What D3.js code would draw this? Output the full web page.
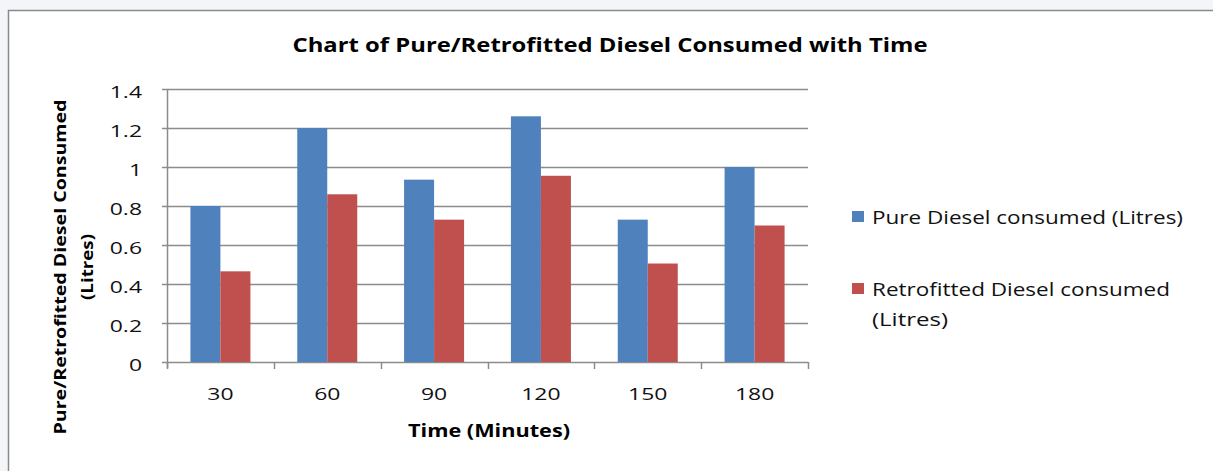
<!DOCTYPE html>
<html>
<head>
<meta charset="utf-8">
<script src="https://cdn.jsdelivr.net/npm/d3@7"></script>
<style>
  body { margin: 0; background: #f3f5f8; }
  svg { display: block; }
</style>
</head>
<body>
<div id="chart"></div>
<script>
// --- Data ---
const categories = ["30", "60", "90", "120", "150", "180"];
const pureDiesel = [0.80, 1.20, 0.935, 1.26, 0.73, 1.00];
const retroDiesel = [0.465, 0.86, 0.73, 0.955, 0.505, 0.70];
const yTicks = [0, 0.2, 0.4, 0.6, 0.8, 1, 1.2, 1.4];
const seriesNames = ["Pure Diesel consumed (Litres)", "Retrofitted Diesel consumed (Litres)"];
const seriesColors = ["#4f81bd", "#c0504d"];

const width = 1213;
const height = 471;
// the reference text looks stretched sideways
const stretch = 1.35;

const svg = d3.select("#chart").append("svg")
  .attr("width", width)
  .attr("height", height);

// chart frame
svg.append("rect")
  .attr("x", 8.5).attr("y", 10.5)
  .attr("width", width + 20).attr("height", height + 20)
  .attr("fill", "#fff")
  .attr("stroke", "#8a8a8a")
  .attr("stroke-width", 1.5);

const plot = { left: 167, right: 808, top: 89, bottom: 362 };

const x = d3.scaleBand()
  .domain(categories)
  .range([plot.left, plot.right]);

const y = d3.scaleLinear()
  .domain([0, 1.4])
  .range([plot.bottom, plot.top]);

// gridlines
svg.append("g")
  .selectAll("line")
  .data(yTicks)
  .join("line")
  .attr("x1", plot.left - 5)
  .attr("x2", plot.right)
  .attr("y1", d => Math.round(y(d)) + 0.5)
  .attr("y2", d => Math.round(y(d)) + 0.5)
  .attr("stroke", "#8c8c8c")
  .attr("stroke-width", 1.5);

// y tick labels
svg.append("g")
  .selectAll("text")
  .data(yTicks)
  .join("text")
  .attr("transform", d => `translate(${plot.left - 25},${y(d) + 3}) scale(${stretch},1)`)
  .attr("dy", "0.35em")
  .attr("text-anchor", "end")
  .attr("font-family", "Open Sans")
  .attr("font-size", 17)
  .attr("fill", "#111")
  .text(d => d);

// bars
const inner = d3.scaleBand()
  .domain([0, 1])
  .range([0, 60]);
const groupOffset = (x.bandwidth() - 60) / 2;

const series = [pureDiesel, retroDiesel];
series.forEach((values, si) => {
  svg.append("g")
    .selectAll("rect")
    .data(values)
    .join("rect")
    .attr("x", (d, i) => x(categories[i]) + groupOffset + inner(si))
    .attr("y", d => y(d))
    .attr("width", inner.bandwidth())
    .attr("height", d => y(0) - y(d))
    .attr("fill", seriesColors[si]);
});

// y axis line
svg.append("line")
  .attr("x1", plot.left + 0.5).attr("x2", plot.left + 0.5)
  .attr("y1", plot.top).attr("y2", plot.bottom + 6)
  .attr("stroke", "#8c8c8c")
  .attr("stroke-width", 1.5);

// x ticks at category boundaries
const boundaries = categories.map(c => x(c)).concat([plot.right]);
svg.append("g")
  .selectAll("line")
  .data(boundaries)
  .join("line")
  .attr("x1", d => Math.round(d) + 0.5)
  .attr("x2", d => Math.round(d) + 0.5)
  .attr("y1", plot.bottom)
  .attr("y2", plot.bottom + 7)
  .attr("stroke", "#8c8c8c")
  .attr("stroke-width", 1.5);

// x labels
svg.append("g")
  .selectAll("text")
  .data(categories)
  .join("text")
  .attr("transform", d => `translate(${x(d) + x.bandwidth() / 2},400) scale(${stretch},1)`)
  .attr("text-anchor", "middle")
  .attr("font-family", "Open Sans")
  .attr("font-size", 17)
  .attr("fill", "#111")
  .text(d => d);

// title
svg.append("text")
  .attr("x", 610)
  .attr("y", 52)
  .attr("text-anchor", "middle")
  .attr("font-family", "Open Sans")
  .attr("font-weight", "bold")
  .attr("font-size", 19)
  .attr("textLength", 635)
  .attr("lengthAdjust", "spacingAndGlyphs")
  .text("Chart of Pure/Retrofitted Diesel Consumed with Time");

// x axis title
svg.append("text")
  .attr("x", 489)
  .attr("y", 437)
  .attr("text-anchor", "middle")
  .attr("font-family", "Open Sans")
  .attr("font-weight", "bold")
  .attr("font-size", 18)
  .attr("textLength", 162)
  .attr("lengthAdjust", "spacingAndGlyphs")
  .text("Time (Minutes)");

// y axis title (two lines, rotated)
const yTitle = svg.append("g")
  .attr("transform", "translate(66,267) rotate(-90)");
yTitle.append("text")
  .attr("x", 0).attr("y", 0)
  .attr("text-anchor", "middle")
  .attr("font-family", "Open Sans")
  .attr("font-weight", "bold")
  .attr("font-size", 16)
  .attr("textLength", 335)
  .attr("lengthAdjust", "spacingAndGlyphs")
  .text("Pure/Retrofitted  Diesel Consumed");
yTitle.append("text")
  .attr("x", 0).attr("y", 27)
  .attr("text-anchor", "middle")
  .attr("font-family", "Open Sans")
  .attr("font-weight", "bold")
  .attr("font-size", 16)
  .attr("textLength", 66)
  .attr("lengthAdjust", "spacingAndGlyphs")
  .text("(Litres)");

// legend
const legendRows = [
  { y: 217, lines: [seriesNames[0]], widths: [311] },
  { y: 289, lines: ["Retrofitted Diesel consumed", "(Litres)"], widths: [298, 76] }
];
const legend = svg.append("g");
legendRows.forEach((row, i) => {
  legend.append("rect")
    .attr("x", 852)
    .attr("y", row.y - 6)
    .attr("width", 12)
    .attr("height", 11)
    .attr("fill", seriesColors[i]);
  row.lines.forEach((line, j) => {
    legend.append("text")
      .attr("x", 872)
      .attr("y", row.y + j * 30)
      .attr("dy", "0.35em")
      .attr("font-family", "Open Sans")
      .attr("font-size", 19)
      .attr("textLength", row.widths[j])
      .attr("lengthAdjust", "spacingAndGlyphs")
      .attr("fill", "#111")
      .text(line);
  });
});
</script>
</body>
</html>
